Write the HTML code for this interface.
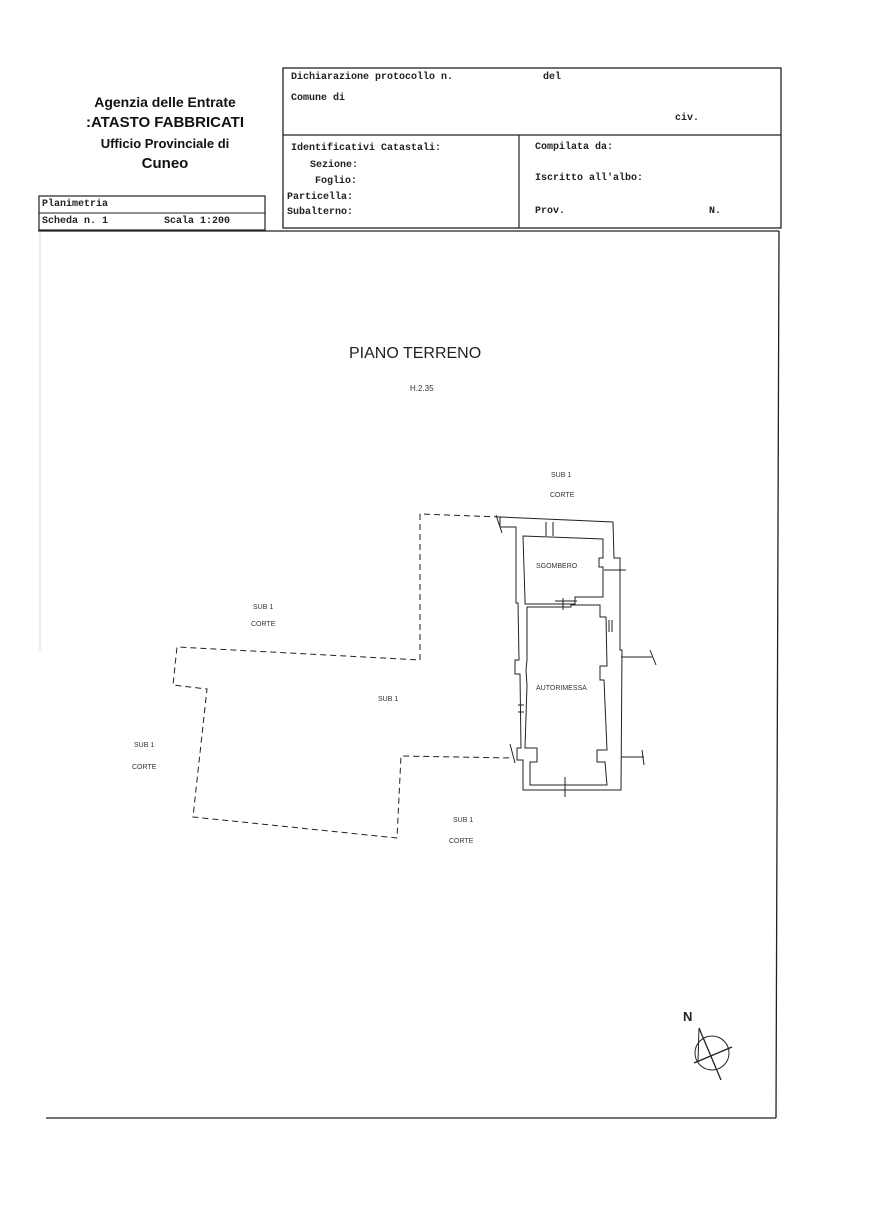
<!DOCTYPE html>
<html><head><meta charset="utf-8"><style>
body{margin:0;background:#fff;width:889px;height:1213px;overflow:hidden;position:relative;font-family:"Liberation Sans",sans-serif}
.m{position:absolute;font-family:"Liberation Mono",monospace;font-size:10px;font-weight:bold;color:#222;white-space:nowrap}
.h{position:absolute;font-weight:bold;color:#111;text-align:center;white-space:nowrap}
.s{position:absolute;font-size:7px;color:#333;white-space:nowrap}
</style></head><body>
<div class="h" style="left:70px;top:94px;width:190px;font-size:14px">Agenzia delle Entrate</div>
<div class="h" style="left:70px;top:114px;width:190px;font-size:15px">:ATASTO FABBRICATI</div>
<div class="h" style="left:70px;top:136px;width:190px;font-size:13px">Ufficio Provinciale di</div>
<div class="h" style="left:70px;top:155px;width:190px;font-size:15px">Cuneo</div>

<svg width="889" height="1213" style="position:absolute;left:0;top:0" fill="none" stroke="#222">
<rect x="283" y="68" width="498" height="160" stroke-width="1.3"/>
<line x1="283" y1="135" x2="781" y2="135" stroke-width="1.2"/>
<line x1="519" y1="135" x2="519" y2="228" stroke-width="1.2"/>
<rect x="39" y="196" width="226" height="34" stroke-width="1.2"/>
<line x1="39" y1="213" x2="265" y2="213" stroke-width="1"/>
<line x1="38" y1="231" x2="779" y2="231" stroke-width="1.3"/>
<line x1="779" y1="231" x2="776" y2="1118" stroke-width="1.3"/>
<line x1="46" y1="1118" x2="776" y2="1118" stroke-width="1.3"/>
<line x1="40" y1="231" x2="40" y2="650" stroke-width="0.6" stroke="#bbb"/>
<!-- dashed boundary -->
<polyline stroke-dasharray="6,4" stroke-width="1" points="500,517 420,514 420,660 177,647 173,685 207,689 193,817 397,838 401,756 513,758"/>
<!-- building -->
<g stroke-width="1">
<polygon points="500,517 613,522 614,558 620,558 620,650 622,650 621,790 523,790 523,760 517,760 517,748 521,748 520,674 515,674 515,660 519,660 518,603 516,603 516,527 500,527"/>
<polygon points="523,536 603,539 603,558 599,558 599,567 603,567 603,597 575,597 575,604 525,604 525,600"/>
<polygon points="527,607 571,607 571,605 600,605 600,617 606,617 607,666 600,666 600,680 604,680 607,750 597,750 597,762 605,762 607,785 530,785 530,762 537,762 537,748 525,748 527,685 526,670 527,660"/>
<line x1="546" y1="522" x2="546" y2="536"/><line x1="553" y1="522" x2="553" y2="536"/>
<line x1="563" y1="598" x2="563" y2="610"/><line x1="555" y1="601" x2="577" y2="601"/>
<line x1="604" y1="570" x2="626" y2="570"/>
<line x1="609" y1="620" x2="609" y2="632"/><line x1="612" y1="620" x2="612" y2="632"/>
<line x1="621" y1="657" x2="652" y2="657"/><line x1="650" y1="650" x2="656" y2="665"/>
<line x1="621" y1="757" x2="644" y2="757"/><line x1="642" y1="750" x2="644" y2="765"/>
<line x1="496" y1="515" x2="502" y2="533"/>
<line x1="510" y1="744" x2="515" y2="763"/>
<line x1="565" y1="777" x2="565" y2="797"/>
<line x1="518" y1="705" x2="524" y2="705"/><line x1="518" y1="712" x2="524" y2="712"/>
</g>
<!-- compass -->
<circle cx="712" cy="1053" r="17" stroke-width="1"/>
<line x1="694" y1="1063" x2="732" y2="1047" stroke-width="1.3"/>
<polyline points="699,1028 721,1080" stroke-width="1.3"/>
<polyline points="699,1028 698,1062" stroke-width="1"/>
</svg>

<div class="m" style="left:291px;top:72px">Dichiarazione protocollo n.</div>
<div class="m" style="left:543px;top:72px">del</div>
<div class="m" style="left:291px;top:93px">Comune di</div>
<div class="m" style="left:675px;top:113px">civ.</div>
<div class="m" style="left:291px;top:143px">Identificativi Catastali:</div>
<div class="m" style="left:310px;top:160px">Sezione:</div>
<div class="m" style="left:315px;top:176px">Foglio:</div>
<div class="m" style="left:287px;top:192px">Particella:</div>
<div class="m" style="left:287px;top:207px">Subalterno:</div>
<div class="m" style="left:535px;top:142px">Compilata da:</div>
<div class="m" style="left:535px;top:173px">Iscritto all'albo:</div>
<div class="m" style="left:535px;top:206px">Prov.</div>
<div class="m" style="left:709px;top:206px">N.</div>
<div class="m" style="left:42px;top:199px">Planimetria</div>
<div class="m" style="left:42px;top:216px">Scheda n. 1</div>
<div class="m" style="left:164px;top:216px">Scala 1:200</div>

<div style="position:absolute;left:349px;top:345px;font-size:16px;color:#222">PIANO TERRENO</div>
<div class="s" style="left:410px;top:384px;font-size:8px">H.2.35</div>
<div class="s" style="left:551px;top:472px">SUB 1</div>
<div class="s" style="left:550px;top:492px">CORTE</div>
<div class="s" style="left:253px;top:604px">SUB 1</div>
<div class="s" style="left:251px;top:621px">CORTE</div>
<div class="s" style="left:378px;top:696px">SUB 1</div>
<div class="s" style="left:134px;top:742px">SUB 1</div>
<div class="s" style="left:132px;top:764px">CORTE</div>
<div class="s" style="left:453px;top:817px">SUB 1</div>
<div class="s" style="left:449px;top:838px">CORTE</div>
<div class="s" style="left:536px;top:563px">SGOMBERO</div>
<div class="s" style="left:536px;top:685px">AUTORIMESSA</div>
<div style="position:absolute;left:683px;top:1009px;font-size:13px;font-weight:bold;color:#222">N</div>
</body></html>
